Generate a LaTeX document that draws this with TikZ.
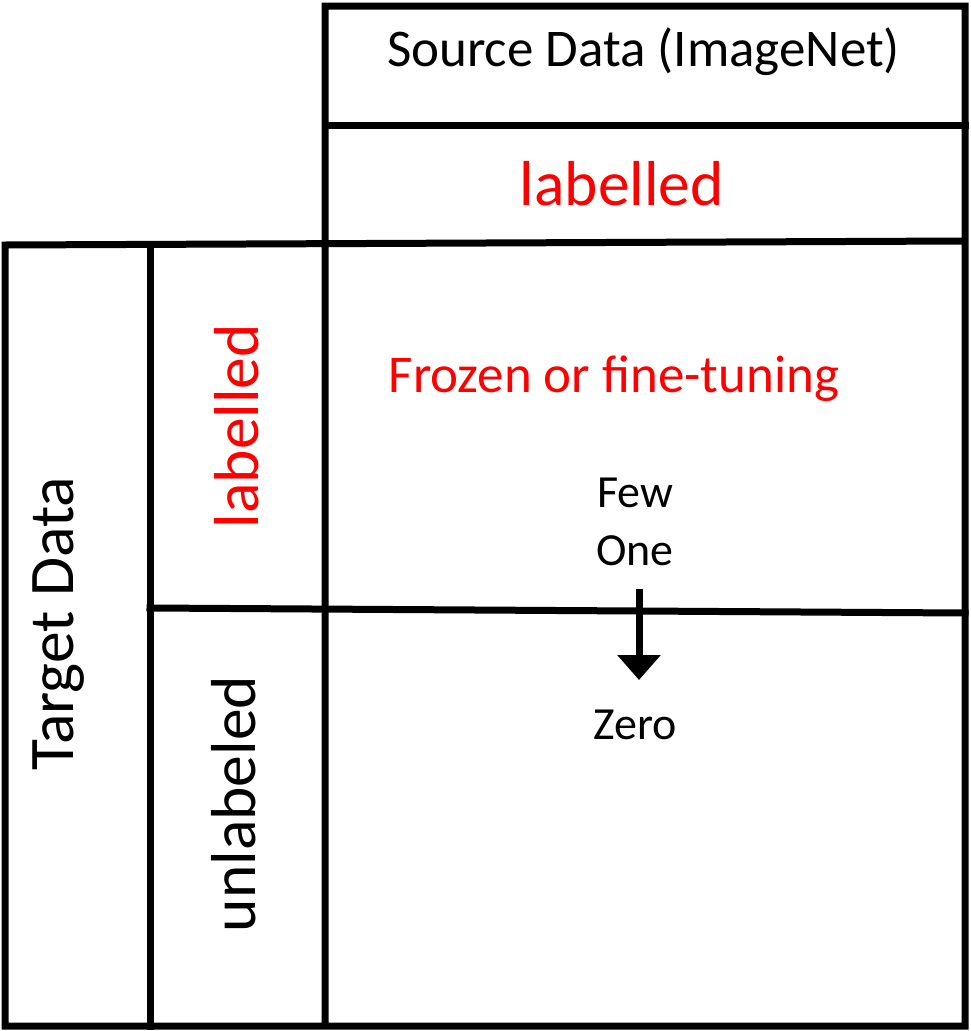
\documentclass[tikz,border=0pt]{standalone}
\usepackage{fontspec}
\setmainfont{Carlito}
\usetikzlibrary{arrows.meta}
\definecolor{redtxt}{RGB}{255,0,0}
\tikzset{
  frame/.style={line width=7pt, line cap=rect},
  lbl/.style={inner sep=0pt, anchor=base},
  big/.style={font=\fontsize{63.5}{63.5}\selectfont},
  mid/.style={font=\fontsize{53}{53}\selectfont},
  small/.style={font=\fontsize{46}{46}\selectfont},
  flow/.style={line width=7pt, -{Triangle[width=42pt,length=25pt]}}
}
\begin{document}
\begin{tikzpicture}[x=1pt,y=-1pt]
\useasboundingbox (0,0) rectangle (970,1031);
% frame lines
\draw[frame] (325,1026) -- (325,6) -- (965,6) -- (965,1026) -- (5,1026) -- (5,245) -- (965,241);
\draw[frame] (325,125.5) -- (965,125.5);
\draw[frame] (150,245) -- (150,1026);
\draw[frame] (150,608) -- (965,613);
% texts
\node[lbl,mid] (src) at (643.5,66) {Source Data (ImageNet)};
\node[lbl,big,text=redtxt] (srclab) at (622,205) {labelled};
\node[lbl,mid,text=redtxt] (frozen) at (614,392) {Frozen or fine-tuning};
\node[lbl,small] (few) at (635,507) {Few};
\node[lbl,small] (one) at (635,565) {One};
\node[lbl,small] (zero) at (635,739) {Zero};
\node[lbl,big,rotate=90] (target) at (73,624) {Target Data};
\node[lbl,big,rotate=90,text=redtxt] (tlab) at (258,426) {labelled};
\node[lbl,big,rotate=90] (tunlab) at (255,804) {unlabeled};
% arrow
\coordinate (astart) at (639,589);
\coordinate (aend) at (639,680);
\draw[flow] (astart) -- (aend);
\end{tikzpicture}
\end{document}
